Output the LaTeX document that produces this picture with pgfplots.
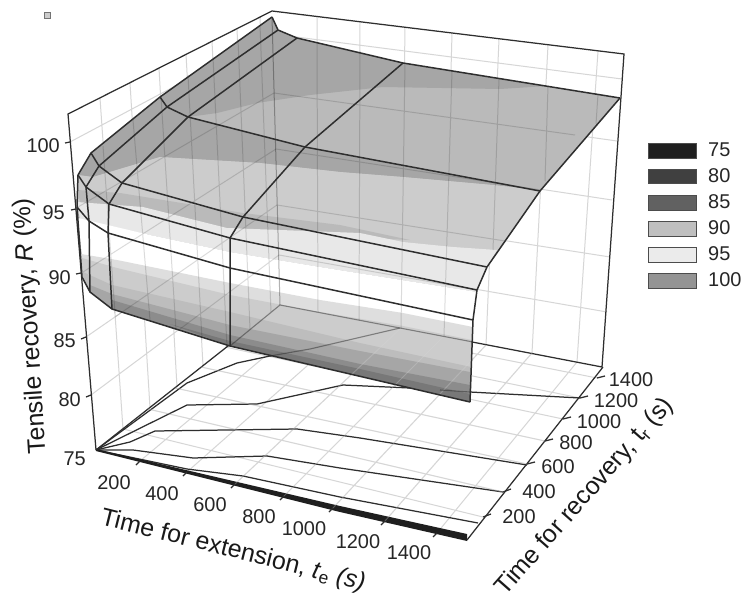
\documentclass[border=0pt]{standalone}
\usepackage{pgfplots}
\pgfplotsset{compat=1.18}
\usepackage{fontspec}
\setmainfont{Liberation Sans}
\definecolor{gridc}{HTML}{D6D6D6}
\definecolor{dk}{HTML}{2E2E2E}
\tikzset{
  grid line/.style={draw=gridc, line width=1.0pt},
  see/.style={draw=black, draw opacity=0.14, line width=1.0pt},
  edge/.style={draw=dk, line width=1.25pt},
  srf/.style={draw=dk, line width=1.5pt, line join=round},
  lab/.style={font=\fontsize{20}{20}\selectfont, text=black!85, inner sep=0pt},
  axl/.style={font=\fontsize{25}{25}\selectfont, text=black!90, inner sep=0pt},
}
\begin{document}
\begin{tikzpicture}
\begin{axis}[hide axis, scale only axis, width=744bp, height=604bp,
  xmin=0, xmax=744, ymin=0, ymax=604, y dir=reverse, clip=false,
  unbounded coords=jump,
]
% page area
\addplot[fill=white, draw=none] coordinates {(0,0)(744,0)(744,604)(0,604)} -- cycle;
% --- left wall and back wall grid ---
\addplot[grid line] coordinates {
 (70,142)(273,34)(622,79) (0,nan)
 (76,209)(274,93)(617,141) (0,nan)
 (81,273)(276,149)(612,200) (0,nan)
 (86,337)(277,205)(610,257) (0,nan)
 (91,395)(279,255)(607,312) (0,nan)
 (100,98)(123,429) (0,nan) (130,83)(150,408) (0,nan) (159,68)(177,387) (0,nan)
 (186,54)(203,366) (0,nan) (212,41)(227,347) (0,nan) (237,29)(250,329) (0,nan)
 (260,17)(271,312) (0,nan)
 (317,17)(318,312) (0,nan) (360,22)(359,320) (0,nan) (405,27)(401,328) (0,nan)
 (452,33)(444,336) (0,nan) (499,39)(486,345) (0,nan) (548,45)(532,353) (0,nan)
 (598,51)(577,362)
};
% --- floor grid ---
\addplot[grid line] coordinates {
 (123,429)(483,517) (0,nan) (148,409)(503,492) (0,nan) (175,388)(527,464) (0,nan)
 (201,367)(545,441) (0,nan) (225,347)(563,419) (0,nan) (248,330)(580,398) (0,nan)
 (270,313)(597,378) (0,nan)
 (140,461)(318,312) (0,nan) (187,472)(359,320) (0,nan) (235,484)(401,328) (0,nan)
 (284,496)(444,336) (0,nan) (333,508)(486,345) (0,nan) (385,521)(532,353) (0,nan)
 (437,533)(577,362)
};
% --- contours projected on the floor ---
\addplot[edge] coordinates {(96,450)(187,383)(237,363)(270,356)(310,349)(400,328)};
\addplot[edge] coordinates {(96,450)(187,405)(257,404)(343,385)(410,388)(470,392)(580,398)};
\addplot[edge] coordinates {(96,450)(130,442)(155,431)(297,429)(360,438)(527,465)};
\addplot[edge] coordinates {(96,450)(133,450)(193,458)(267,456)(340,468)(503,492)};
\addplot[edge] coordinates {(96,450)(187,469)(243,476)(340,497)(478,523)};
\addplot[fill=black!88, draw=none] coordinates {(96,449)(340,506)(467,534)(467,541)(340,512)(96,451)} -- cycle;
% --- box edges ---
\addplot[edge] coordinates {(96,450)(68,114)(272,11)(624,54)(602,367)(280,305)(96,450)};
\addplot[edge] coordinates {(467,540)(603,367)};
% --- ticks ---
\addplot[edge] coordinates {
 (70,142)(65,143) (0,nan) (76,209)(71,210) (0,nan) (81,273)(76,274) (0,nan)
 (86,337)(81,339) (0,nan) (91,395)(86,397) (0,nan)
 (140,461)(136,465) (0,nan) (187,472)(183,476) (0,nan) (235,484)(231,488) (0,nan)
 (284,496)(280,500) (0,nan) (333,508)(329,512) (0,nan) (385,521)(381,525) (0,nan)
 (437,533)(433,537) (0,nan)
 (483,517)(491,514) (0,nan) (503,492)(511,489) (0,nan) (527,464)(535,462) (0,nan)
 (545,441)(553,439) (0,nan) (563,419)(571,417) (0,nan) (580,398)(588,396) (0,nan)
 (597,378)(605,376)
};
% --- surface: base ---
\addplot[fill=black!27, draw=none] coordinates {
 (272,17)(278,30)(297,38)(403,63)(620,98)(540,191)(487,267)(477,290)(473,320)(470,402)
 (230,346)(112,309)(90,292)(82,277)(77,207)(78,175)(91,153)(160,97)} -- cycle;
% zones of the upper face
\addplot[fill=black!35, draw=none] coordinates {
 (272,17)(278,30)(297,38)(403,63)(547,86)(500,89)(383,87)(310,95)(257,103)(217,113)(188,117)
 (305,147)(430,170)(530,189)(493,185)(403,177)(340,172)(260,163)(160,157)(93,177)(78,175)(91,153)(160,97)} -- cycle;
\addplot[fill=black!20, draw=none] coordinates {
 (93,177)(160,157)(260,163)(340,172)(403,177)(493,185)(530,189)(540,191)(487,267)(477,290)(300,260)(78,210)(78,175)} -- cycle;
\addplot[fill=black!27, draw=none] coordinates {
 (78,190)(120,193)(243,213)(340,225)(410,240)(227,232)(143,211)(80,203)} -- cycle;
\addplot[fill=black!9, draw=none] coordinates {
 (77,202)(143,207)(227,228)(360,233)(403,242)(453,247)(497,250)(487,267)(477,292)(320,267)(230,252)(150,235)(80,220)} -- cycle;
\addplot[fill=white, draw=none] coordinates {
 (78,218)(150,235)(230,252)(320,267)(477,292)(473,320)(472,330)(320,302)(230,285)(117,262)(82,256)} -- cycle;
% graded bands of the lower face
\addplot[fill=black!13, draw=none] coordinates {(81,254)(117,260)(230,283)(320,300)(403,313)(473,327)(470,402)(230,346)(112,309)(90,292)(82,277)} -- cycle;
\addplot[fill=black!20, draw=none] coordinates {(82,258)(117,268)(230,295)(320,312)(403,326)(472,340)(470,402)(230,346)(112,309)(90,292)(82,277)} -- cycle;
\addplot[fill=black!26, draw=none] coordinates {(83,272)(112,285)(230,312)(360,343)(471,367)(470,402)(230,346)(112,309)(90,292)(82,277)} -- cycle;
\addplot[fill=black!35, draw=none] coordinates {(90,285)(112,294)(230,325)(360,351)(470,372)(470,402)(230,346)(112,309)(90,292)} -- cycle;
\addplot[fill=black!45, draw=none] coordinates {(112,300)(230,335)(360,364)(470,385)(470,402)(230,346)(112,309)} -- cycle;
\addplot[fill=black!53, draw=none] coordinates {(170,324)(230,341)(360,369)(470,394)(470,402)(230,346)} -- cycle;
% --- what shows through the surface ---
\addplot[see] coordinates {
 (317,42)(318,312) (0,nan) (360,51)(359,320) (0,nan) (405,63)(401,328) (0,nan)
 (452,71)(444,336) (0,nan) (499,79)(493,250) (0,nan) (548,86)(545,181) (0,nan) (598,94)(596,124) (0,nan)
 (103,146)(115,313) (0,nan) (133,120)(150,320) (0,nan) (161,97)(176,330) (0,nan)
 (188,75)(202,340) (0,nan) (213,57)(227,347) (0,nan) (238,39)(250,329) (0,nan) (260,25)(271,312) (0,nan)
 (274,93)(575,135) (0,nan) (276,149)(541,190) (0,nan) (277,205)(505,241) (0,nan) (279,255)(477,290) (0,nan)
 (78,207)(274,93) (0,nan) (83,272)(276,149) (0,nan) (115,317)(277,205) (0,nan) (180,329)(279,255)
};
\addplot[draw=black, draw opacity=0.3, line width=1.0pt] coordinates {(272,17)(280,305)};
\addplot[grid line, draw opacity=0.3] coordinates {
 (148,409)(503,492) (0,nan) (175,388)(527,464) (0,nan) (201,367)(545,441) (0,nan)
 (235,484)(401,328) (0,nan) (284,496)(444,336) (0,nan) (333,508)(486,345) (0,nan) (385,521)(532,353)
};
\addplot[draw=dk, draw opacity=0.5, line width=1.1pt] coordinates {(230,346)(280,305)(473,342)};
\addplot[draw=dk, draw opacity=0.5, line width=1.1pt] coordinates {(270,356)(310,349)(400,328)};
\addplot[draw=dk, draw opacity=0.5, line width=1.1pt] coordinates {(440,390)(470,392)};
% --- surface mesh ---
\addplot[srf] coordinates {(82,277)(90,292)(112,309)(230,346)(470,402)};
\addplot[srf] coordinates {(77,207)(89,221)(108,233)(230,268)(473,320)};
\addplot[srf] coordinates {(78,175)(86,187)(109,204)(230,238)(477,290)};
\addplot[srf] coordinates {(91,153)(99,166)(122,183)(243,217)(487,267)};
\addplot[srf] coordinates {(160,97)(167,107)(188,117)(305,147)(540,191)};
\addplot[srf] coordinates {(272,17)(278,30)(297,38)(403,63)(620,98)};
\addplot[srf] coordinates {(82,277)(77,207)(78,175)(91,153)(160,97)(272,17)};
\addplot[srf] coordinates {(90,292)(89,221)(86,187)(99,166)(167,107)(278,30)};
\addplot[srf] coordinates {(112,309)(108,233)(109,204)(122,183)(188,117)(297,38)};
\addplot[srf] coordinates {(230,346)(230,268)(230,238)(243,217)(305,147)(403,63)};
\addplot[srf] coordinates {(470,402)(473,320)(477,290)(487,267)(540,191)(620,98)};
% --- legend swatches ---
\addplot[fill=black!88, draw=black!70, line width=0.8pt] coordinates {(648,143)(696,143)(696,158)(648,158)} -- cycle;
\addplot[fill=black!75, draw=black!70, line width=0.8pt] coordinates {(648,169)(696,169)(696,183)(648,183)} -- cycle;
\addplot[fill=black!62, draw=black!70, line width=0.8pt] coordinates {(648,195)(696,195)(696,210)(648,210)} -- cycle;
\addplot[fill=black!25, draw=black!70, line width=0.8pt] coordinates {(648,221)(696,221)(696,236)(648,236)} -- cycle;
\addplot[fill=black!8,  draw=black!70, line width=0.8pt] coordinates {(648,247)(696,247)(696,262)(648,262)} -- cycle;
\addplot[fill=black!42, draw=black!70, line width=0.8pt] coordinates {(648,273)(696,273)(696,288)(648,288)} -- cycle;
\addplot[fill=black!20, draw=black!55, line width=0.7pt] coordinates {(44.5,12.5)(50,12.5)(50,18)(44.5,18)} -- cycle;
% --- text ---
\node[lab, anchor=west] at (axis cs:708,150) {75};
\node[lab, anchor=west] at (axis cs:708,176) {80};
\node[lab, anchor=west] at (axis cs:708,202) {85};
\node[lab, anchor=west] at (axis cs:708,228) {90};
\node[lab, anchor=west] at (axis cs:708,254) {95};
\node[lab, anchor=west] at (axis cs:708,280) {100};
\node[lab, anchor=east] at (axis cs:60,146) {100};
\node[lab, anchor=east] at (axis cs:65,213) {95};
\node[lab, anchor=east] at (axis cs:71,278) {90};
\node[lab, anchor=east] at (axis cs:76,341) {85};
\node[lab, anchor=east] at (axis cs:81,400) {80};
\node[lab, anchor=east] at (axis cs:86,459) {75};
\node[lab] at (axis cs:114,483) {200};
\node[lab] at (axis cs:162,494) {400};
\node[lab] at (axis cs:210,505) {600};
\node[lab] at (axis cs:259,517) {800};
\node[lab] at (axis cs:304,529) {1000};
\node[lab] at (axis cs:358,542) {1200};
\node[lab] at (axis cs:409,553) {1400};
\node[lab] at (axis cs:519,517) {200};
\node[lab] at (axis cs:539,492) {400};
\node[lab] at (axis cs:558,467) {600};
\node[lab] at (axis cs:576,443) {800};
\node[lab] at (axis cs:599,422) {1000};
\node[lab] at (axis cs:616,401) {1200};
\node[lab] at (axis cs:631,380) {1400};
\node[axl, rotate=93.6] at (axis cs:31,326) {Tensile recovery, \textit{R} (\%)};
\node[axl, rotate=-14] at (axis cs:233,551) {Time for extension, \textit{t}\textsubscript{e} \textit{(s)}};
\node[axl, rotate=48.6] at (axis cs:585,497) {Time for recovery, t\textsubscript{r} (s)};
\end{axis}
\end{tikzpicture}
\end{document}
